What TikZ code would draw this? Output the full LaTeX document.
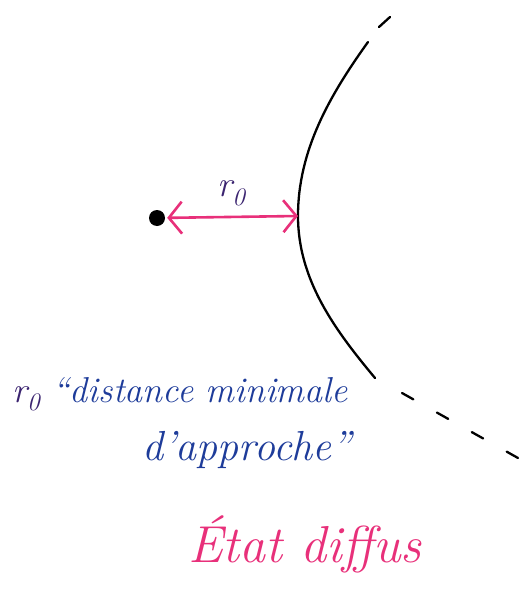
\documentclass[tikz,border=0pt]{standalone}
\usepackage{fontspec}
\usetikzlibrary{positioning,arrows.meta}
\definecolor{rose}{HTML}{E8307A}
\definecolor{encre}{HTML}{1E3C9A}
\definecolor{violetfonce}{HTML}{3B2470}

\begin{document}
\begin{tikzpicture}[
  x=1pt, y=-1pt,
  courbe/.style={line width=2.3pt, line cap=round},
  pointille/.style={courbe, dash pattern=on 13pt off 27pt},
  fleche/.style={{Straight Barb[length=13pt,width=32pt]}-{Straight Barb[length=13pt,width=32pt]}, rose, line width=2.6pt},
  ecrit/.style={font=\itshape\fontsize{36}{42}\selectfont, inner sep=0pt}
]
\useasboundingbox (0,0) rectangle (531,594);
\node[circle, fill=black, inner sep=0pt, minimum size=16pt] (ion) at (157,218) {};
\coordinate (sommet) at (298,216);
% branche de l'hyperbole
\draw[courbe] (368,42) .. controls (330,95) and (298,150) .. (sommet)
  .. controls (298,280) and (335,330) .. (375,378);
\draw[courbe] (379,27) -- (390,17);
\draw[pointille] (402,393) -- (518,458);
% distance minimale
\draw[fleche, shorten <=2pt] (ion) -- node[above=10pt, ecrit, text=violetfonce] (rzero) {r\textsubscript{0}} (sommet);
\node[ecrit, text=encre, anchor=base west] (ligne1) at (12,402) {\textcolor{violetfonce}{r\textsubscript{0}} “distance minimale};
\node[ecrit, text=encre, font=\itshape\fontsize{42}{48}\selectfont, anchor=base east] (ligne2) at (352,460) {d'approche”};
\node[ecrit, text=rose, font=\itshape\fontsize{52}{58}\selectfont, anchor=base] (etat) at (305,562) {État diffus};
\end{tikzpicture}
\end{document}
